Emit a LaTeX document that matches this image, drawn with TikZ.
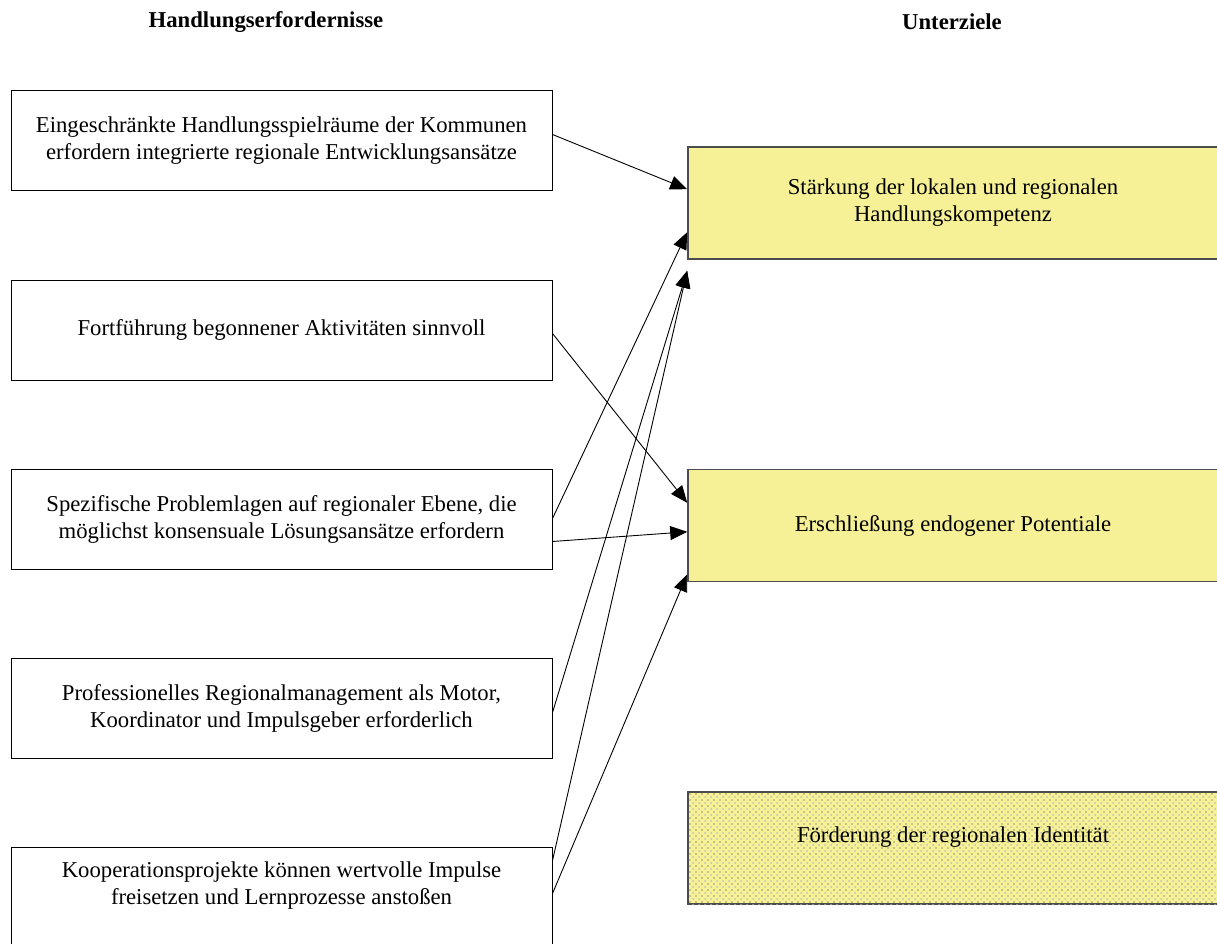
\documentclass[tikz,border=0pt]{standalone}
\usepackage{fontspec}
\setmainfont{Liberation Serif}
\usetikzlibrary{positioning,arrows.meta,patterns.meta}
\definecolor{zielgelb}{HTML}{F6F196}

\begin{document}
\begin{tikzpicture}[x=1pt,y=-1pt,
    txt/.style={font=\fontsize{22.7}{27}\selectfont},
    hbox/.style={txt,draw,line width=1pt,minimum width=541pt,minimum height=100pt,align=center},
    zbox/.style={txt,draw=black!70,line width=1.6pt,fill=zielgelb,minimum width=530pt,minimum height=112pt,align=center},
    pfeil/.style={-{Triangle[length=17pt,width=14pt]},line width=0.9pt}]
  \useasboundingbox (0,0) rectangle (1217,944);
  % Ueberschriften
  \node[txt,font=\fontsize{22.7}{27}\selectfont\bfseries] (t1) at (266,22) {Handlungserfordernisse};
  \node[txt,font=\fontsize{22.7}{27}\selectfont\bfseries] (t2) at (952,22) {Unterziele};
  % Handlungserfordernisse
  \node[hbox] (h1) at (281.5,141) {Eingeschränkte Handlungsspielräume der Kommunen\\erfordern integrierte regionale Entwicklungsansätze};
  \node[hbox,below=88pt of h1] (h2) {Fortführung begonnener Aktivitäten sinnvoll};
  \node[hbox,below=88pt of h2] (h3) {Spezifische Problemlagen auf regionaler Ebene, die\\möglichst konsensuale Lösungsansätze erfordern};
  \node[hbox,below=88pt of h3] (h4) {Professionelles Regionalmanagement als Motor,\\Koordinator und Impulsgeber erforderlich};
  \node[hbox,below=88pt of h4] (h5) {Kooperationsprojekte können wertvolle Impulse\\freisetzen und Lernprozesse anstoßen\\\mbox{}};
  % Unterziele
  \node[zbox] (u1) at (953,203) {Stärkung der lokalen und regionalen\\Handlungskompetenz};
  \node[zbox,below=209pt of u1] (u2) {Erschließung endogener Potentiale};
  \node[zbox,below=209pt of u2,
        postaction={pattern={Dots[distance=6pt,radius=1pt,xshift=3pt,yshift=3pt]},pattern color=black!25},
        postaction={pattern={Dots[distance=6pt,radius=0.55pt]},pattern color=black!80}] (u3) {Förderung der regionalen Identität\\\mbox{}};
  % Pfeile
  \draw[pfeil] ([yshift=-44pt]h1.north east) -- ([yshift=-43pt]u1.north west);
  \draw[pfeil] ([yshift=-54pt]h2.north east) -- ([yshift=-34pt]u2.north west);
  \draw[pfeil] ([yshift=-50pt]h3.north east) -- ([yshift=-86pt]u1.north west);
  \draw[pfeil] ([yshift=-73pt]h3.north east) -- ([yshift=-63pt]u2.north west);
  \draw[pfeil] ([yshift=-55pt]h4.north east) -- ([yshift=-11pt]u1.south west);
  \draw[pfeil] ([yshift=-14pt]h5.north east) -- ([yshift=-11pt]u1.south west);
  \draw[pfeil] ([yshift=-47pt]h5.north east) -- ([yshift=8pt]u2.south west);
\end{tikzpicture}
\end{document}
